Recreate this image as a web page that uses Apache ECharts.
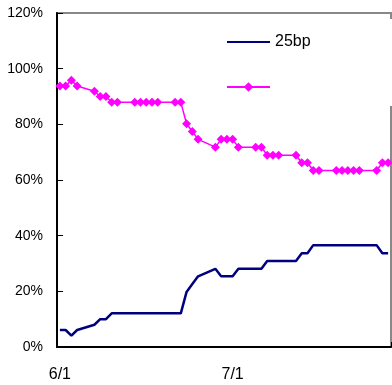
<!DOCTYPE html>
<html>
<head>
<meta charset="utf-8">
<script src="https://cdn.jsdelivr.net/npm/echarts@6/dist/echarts.min.js"></script>
<style>
html,body{margin:0;padding:0;background:#fff;}
#chart{width:392px;height:385px;}
</style>
</head>
<body>
<div id="chart"></div>
<script>
var categories = [
  '6/1','6/2','6/3','6/4','6/5','6/6','6/7','6/8','6/9','6/10',
  '6/11','6/12','6/13','6/14','6/15','6/16','6/17','6/18','6/19','6/20',
  '6/21','6/22','6/23','6/24','6/25','6/26','6/27','6/28','6/29','6/30',
  '7/1','7/2','7/3','7/4','7/5','7/6','7/7','7/8','7/9','7/10',
  '7/11','7/12','7/13','7/14','7/15','7/16','7/17','7/18','7/19','7/20',
  '7/21','7/22','7/23','7/24','7/25','7/26','7/27','7/28'
];
var seriesNames = ['25bp', ' '];
var bp25 = [
  6.1, 6.1, 4.1, 6.1, null, null, 8.0, 10.0, 10.0, 12.1,
  12.1, null, null, 12.1, 12.1, 12.1, 12.1, 12.1, null, null,
  12.1, 12.1, 19.8, 22.6, 25.4, null, null, 28.1, 25.4, 25.4,
  25.4, 28.1, null, null, 28.1, 28.1, 30.9, 30.9, 30.9, null,
  null, 30.9, 33.7, 33.7, 36.6, 36.6, null, null, 36.6, 36.6,
  36.6, 36.6, 36.6, null, null, 36.6, 33.7, 33.7
];
var other = [
  93.8, 93.8, 95.8, 93.8, null, null, 91.9, 90.0, 90.0, 87.9,
  87.9, null, null, 87.9, 87.9, 87.9, 87.9, 87.9, null, null,
  87.9, 87.9, 80.2, 77.4, 74.6, null, null, 71.8, 74.6, 74.6,
  74.6, 71.8, null, null, 71.8, 71.8, 68.9, 68.9, 68.9, null,
  null, 68.9, 66.2, 66.2, 63.4, 63.4, null, null, 63.4, 63.4,
  63.4, 63.4, 63.4, null, null, 63.4, 66.2, 66.2
];
var labeledIndices = [0, 30];

var FONT = "'Liberation Sans', Arial, sans-serif";
var chart = echarts.init(document.getElementById('chart'), null, {renderer: 'canvas'});
chart.setOption({
  animation: false,
  backgroundColor: '#fff',
  grid: {
    left: 57, right: 1, top: 13, bottom: 38,
    show: true, borderColor: '#888', borderWidth: 2, backgroundColor: 'transparent'
  },
  legend: {
    orient: 'vertical',
    left: 221, top: 29,
    itemWidth: 43, itemHeight: 12, itemGap: 29,
    data: [
      {name: seriesNames[0], itemStyle: {opacity: 0}},
      {name: seriesNames[1]}
    ],
    textStyle: {fontFamily: FONT, fontSize: 16, color: '#000'}
  },
  xAxis: {
    type: 'category',
    data: categories,
    boundaryGap: true,
    axisLine: {show: true, lineStyle: {color: '#000', width: 2}},
    axisTick: {show: true, inside: true, length: 5, interval: function (i) { return i === 30; }, lineStyle: {color: '#000', width: 1}},
    axisLabel: {
      interval: function (i) { return labeledIndices.indexOf(i) >= 0; },
      fontFamily: FONT, fontSize: 16, color: '#000', margin: 20
    },
    splitLine: {show: false}
  },
  yAxis: {
    type: 'value',
    min: 0, max: 120, interval: 20,
    axisLine: {show: true, lineStyle: {color: '#000', width: 2}},
    axisTick: {show: true, inside: true, length: 6, lineStyle: {color: '#000', width: 1}},
    axisLabel: {formatter: '{value}%', fontFamily: FONT, fontSize: 14, color: '#000', margin: 14},
    splitLine: {show: false}
  },
  graphic: [{
    type: 'rect', right: 0, top: 19, z: 100,
    shape: {width: 10, height: 87},
    style: {fill: '#fff'}
  }],
  series: [
    {
      name: seriesNames[0], type: 'line', data: bp25, connectNulls: true,
      symbol: 'none', color: '#000080',
      lineStyle: {color: '#000080', width: 2.5}
    },
    {
      name: seriesNames[1], type: 'line', data: other, connectNulls: true,
      symbol: 'diamond', symbolSize: 9, showAllSymbol: true, color: '#ff00ff',
      itemStyle: {color: '#ff00ff'},
      lineStyle: {color: '#ff00ff', width: 1.5}
    }
  ]
});
</script>
</body>
</html>
